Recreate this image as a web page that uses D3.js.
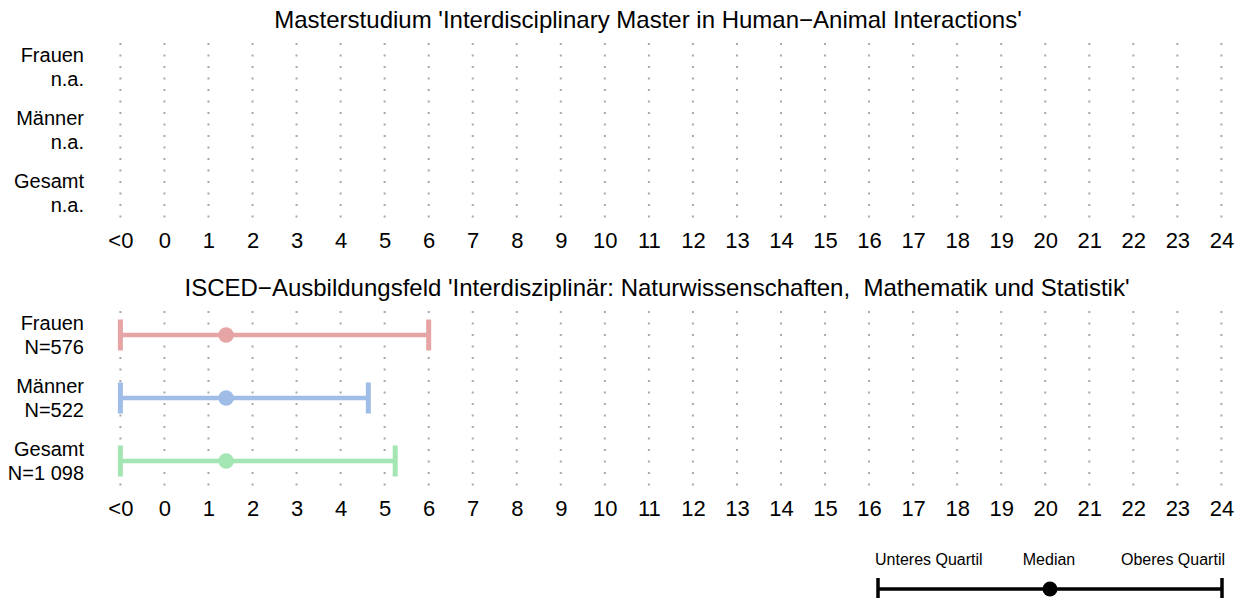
<!DOCTYPE html>
<html lang="de">
  <head>
    <meta charset="UTF-8" />
    <title>Quartile</title>
    <script src="https://d3js.org/d3.v7.min.js"></script>
    <style>
      body { margin: 0; background: #fff; }
      svg { font-family: "Liberation Sans", Arial, sans-serif; }
    </style>
  </head>
  <body>
    <svg id="canvas"></svg>
  </body>
  <script>
    // tick labels of the x axis
    let tickLabels = ["<0", "0", "1", "2", "3", "4", "5", "6", "7", "8", "9", "10", "11", "12",
      "13", "14", "15", "16", "17", "18", "19", "20", "21", "22", "23", "24"];

    let groups = ["Frauen", "Männer", "Gesamt"];
    let colors = ["#e6a4a4", "#9fbde6", "#a3e6b4"];

    let panelTitles = [
      "Masterstudium 'Interdisciplinary Master in Human\u2212Animal Interactions'",
      "ISCED\u2212Ausbildungsfeld 'Interdisziplinär: Naturwissenschaften,  Mathematik und Statistik'"
    ];
    // second label line per panel
    let panelCounts = [
      ["n.a.", "n.a.", "n.a."],
      ["N=576", "N=522", "N=1 098"]
    ];
    // quartiles/median per panel (-1 stands for "<0"); null = no data
    let lowerQ = [[null, null, null], [-1, -1, -1]];
    let medians = [[null, null, null], [1.4, 1.4, 1.4]];
    let upperQ = [[null, null, null], [6, 4.63, 5.24]];

    let width = 1246;
    let height = 598;

    let svg = d3.select("svg").attr("width", width).attr("height", height);

    let xScale = d3.scaleLinear().domain([-1, 24]).range([120.4, 1221.4]);
    let tickScale = d3.scalePoint().domain(tickLabels).range([120.4, 1221.4]);

    let panelTops = [0, 268];

    let drawPanel = (p) => {
      let g = svg.append("g").attr("transform", "translate(0," + panelTops[p] + ")");

      let yScale = d3.scalePoint().domain(groups).range([67, 193]);

      g.append("text")
        .attr("x", p === 0 ? 648 : 657)
        .attr("y", 28)
        .attr("text-anchor", "middle")
        .style("white-space", "pre")
        .style("font-size", "24px")
        .text(panelTitles[p]);

      // dotted grid
      g.selectAll(".grid")
        .data(tickLabels)
        .enter()
        .append("line")
        .attr("x1", (d) => tickScale(d))
        .attr("x2", (d) => tickScale(d))
        .attr("y1", 43)
        .attr("y2", 218)
        .attr("stroke", "#a8a8a8")
        .attr("stroke-width", 2)
        .attr("stroke-dasharray", "2,9.5");

      let xAxis = d3.axisBottom(tickScale).tickSize(0).tickPadding(0);
      let axisG = g.append("g").attr("transform", "translate(0,248)").call(xAxis);
      axisG.select(".domain").remove();
      axisG.selectAll("text")
        .attr("dy", 0)
        .style("font-family", "Liberation Sans, Arial, sans-serif")
        .style("font-size", "22px")
        .attr("fill", "#000");

      // row labels
      groups.forEach((grp, i) => {
        let t = g.append("text")
          .attr("x", 84)
          .attr("y", yScale(grp) - 5)
          .attr("text-anchor", "end")
          .style("font-size", "20px");
        t.append("tspan").attr("x", 84).text(grp);
        t.append("tspan").attr("x", 84).attr("dy", 24).text(panelCounts[p][i]);
      });

      // quartile bars
      groups.forEach((grp, i) => {
        if (lowerQ[p][i] === null) return;
        let y = yScale(grp);
        let lo = xScale(lowerQ[p][i]);
        let hi = xScale(upperQ[p][i]);
        g.append("line")
          .attr("x1", lo).attr("x2", hi)
          .attr("y1", y).attr("y2", y)
          .attr("stroke", colors[i])
          .attr("stroke-width", 4.5);
        [lo, hi].forEach((xx) => {
          g.append("line")
            .attr("x1", xx).attr("x2", xx)
            .attr("y1", y - 15.5).attr("y2", y + 15.5)
            .attr("stroke", colors[i])
            .attr("stroke-width", 5);
        });
        g.append("circle")
          .attr("cx", xScale(medians[p][i]))
          .attr("cy", y)
          .attr("r", 7.8)
          .attr("fill", colors[i]);
      });
    };

    drawPanel(0);
    drawPanel(1);

    // legend
    let legendScale = d3.scaleLinear().domain([0, 1]).range([878, 1222]);
    let legendY = 589;
    let leg = svg.append("g");
    leg.append("line")
      .attr("x1", legendScale(0)).attr("x2", legendScale(1))
      .attr("y1", legendY).attr("y2", legendY)
      .attr("stroke", "#000").attr("stroke-width", 3.5);
    [0, 1].forEach((v) => {
      leg.append("line")
        .attr("x1", legendScale(v)).attr("x2", legendScale(v))
        .attr("y1", legendY - 11).attr("y2", legendY + 11)
        .attr("stroke", "#000").attr("stroke-width", 3.5);
    });
    leg.append("circle")
      .attr("cx", legendScale(0.5)).attr("cy", legendY).attr("r", 7.5).attr("fill", "#000");
    [["Unteres Quartil", 875, "start"], ["Median", 1049, "middle"], ["Oberes Quartil", 1225, "end"]].forEach((d) => {
      leg.append("text")
        .attr("x", d[1]).attr("y", 565)
        .attr("text-anchor", d[2])
        .style("font-size", "16px")
        .text(d[0]);
    });
  </script>
</html>
